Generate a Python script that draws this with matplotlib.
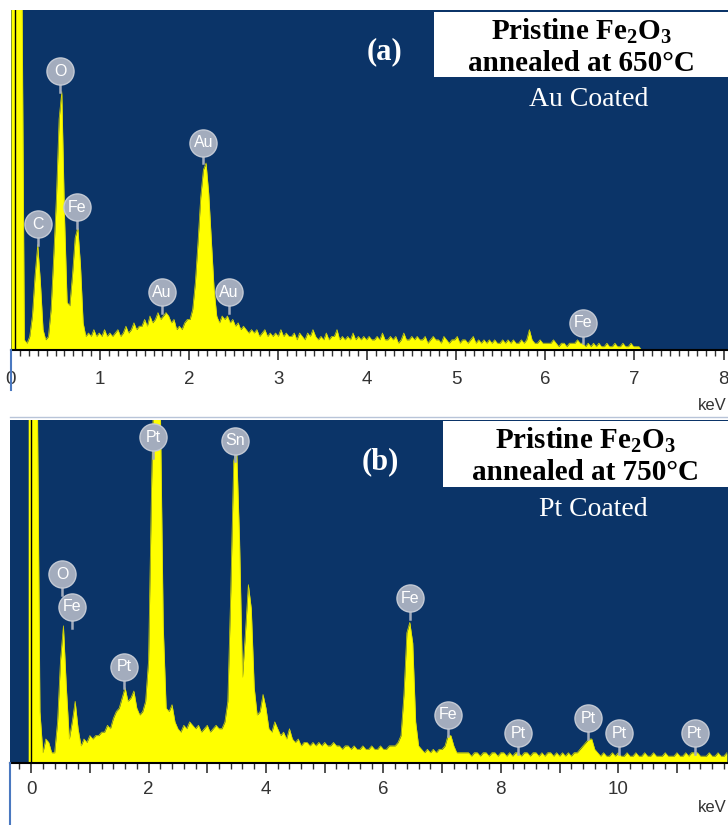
import numpy as np
import matplotlib.pyplot as plt
from matplotlib.patches import Rectangle
from matplotlib.lines import Line2D
from matplotlib.ticker import MultipleLocator, FuncFormatter

plt.rcParams['mathtext.fontset'] = 'custom'
plt.rcParams['mathtext.rm'] = 'Liberation Serif'
plt.rcParams['mathtext.bf'] = 'Liberation Serif:bold'

W, H = 728, 825
NAVY = '#0b3468'
YELLOW = '#ffff00'
BADGE = '#a3acbd'

# ---- panel (a): Au coated, 650 C  (counts in % of full scale) ----
top_start, top_step = 0.0, 0.03
top_counts = [
    120, 120, 120, 120, 120, 3, 2, 4, 10, 22,
    31, 20, 6, 3, 4, 12, 28, 45, 68, 76,
    40, 14, 13, 22, 33, 36, 25, 8, 4, 5,
    4, 6, 4, 5, 4, 6, 4, 5, 4, 5,
    6, 4, 5, 7, 5, 6, 8, 6, 7, 7,
    9, 7, 10, 8, 9, 11, 9, 10, 11, 10,
    8, 9, 6, 7, 6, 8, 9, 9, 12, 20,
    32, 45, 53, 55, 46, 32, 18, 10, 8, 10,
    9, 10, 8, 9, 7, 8, 6, 7, 6, 5,
    6, 5, 6, 4, 5, 6, 4, 5, 4, 5,
    4, 6, 4, 5, 4, 4, 5, 3, 5, 4,
    3, 5, 4, 6, 4, 3, 4, 3, 5, 3,
    4, 4, 6, 3, 4, 3, 4, 3, 5, 3,
    4, 3, 4, 3, 4, 3, 3, 4, 3, 5,
    3, 3, 4, 3, 4, 2, 3, 5, 3, 3,
    4, 3, 4, 3, 3, 4, 2, 3, 4, 3,
    3, 2, 4, 3, 2, 3, 3, 4, 2, 3,
    3, 2, 3, 4, 2, 3, 2, 3, 2, 3,
    2, 3, 2, 2, 3, 2, 3, 2, 3, 2,
    2, 3, 2, 3, 6, 3, 2, 2, 3, 2,
    2, 2, 2, 3, 2, 1, 2, 2, 1, 2,
    2, 2, 3, 2, 2, 1, 2, 1, 2, 1,
    2, 1, 1, 2, 1, 1, 2, 1, 1, 2,
    1, 1, 2, 1, 1, 1, 0,
]
top_labels = ['O', 'C', 'Fe', 'Au', 'Au', 'Au', 'Fe']
top_label_kev = [0.55, 0.30, 0.74, 2.16, 1.69, 2.45, 6.42]
top_label_y = [82, 37, 42, 61, 17, 17, 8]

# ---- panel (b): Pt coated, 750 C ----
bot_start, bot_step = -0.05, 0.05
bot_counts = [
    120, 120, 120, 120, 15, 3, 7, 6, 3, 3,
    12, 30, 40, 22, 7, 12, 18, 10, 5, 7,
    6, 8, 7, 8, 8, 9, 9, 11, 10, 13,
    15, 16, 19, 22, 18, 19, 21, 16, 14, 15,
    18, 30, 80, 120, 120, 105, 40, 16, 15, 17,
    12, 10, 9, 11, 10, 12, 11, 10, 11, 9,
    10, 11, 9, 10, 11, 10, 10, 12, 18, 50,
    88, 92, 65, 25, 38, 52, 45, 22, 14, 15,
    20, 16, 10, 9, 12, 10, 8, 9, 7, 10,
    7, 6, 7, 5, 6, 6, 5, 6, 5, 6,
    5, 6, 5, 5, 6, 5, 5, 4, 5, 5,
    4, 5, 4, 4, 5, 4, 4, 5, 4, 4,
    5, 4, 4, 5, 5, 5, 6, 8, 20, 38,
    41, 35, 12, 5, 4, 3, 4, 3, 4, 3,
    4, 4, 5, 8, 8, 5, 3, 3, 3, 3,
    3, 2, 3, 3, 2, 3, 3, 2, 3, 3,
    2, 3, 3, 2, 3, 2, 3, 3, 2, 3,
    3, 2, 3, 3, 2, 3, 2, 3, 3, 2,
    3, 2, 3, 2, 3, 2, 3, 3, 4, 5,
    6, 7, 7, 4, 3, 2, 3, 2, 2, 3,
    2, 3, 2, 2, 3, 2, 2, 3, 2, 2,
    3, 2, 2, 3, 2, 2, 2, 3, 2, 2,
    2, 3, 2, 2, 3, 2, 3, 3, 3, 2,
    2, 2, 3, 2, 2, 3, 2, 2, 3,
]
bot_labels = ['Pt', 'Sn', 'O', 'Fe', 'Pt', 'Fe', 'Fe', 'Pt', 'Pt', 'Pt', 'Pt']
bot_label_kev = [2.08, 3.47, 0.53, 0.70, 1.58, 6.46, 7.10, 8.30, 9.49, 10.02, 11.30]
bot_label_y = [95, 94, 55, 45.5, 28, 48, 14, 8.7, 13, 8.7, 8.7]


def px(x, y):
    return x / W, 1 - y / H


def spectrum(ax, start, step, counts, zero_line):
    kev = start + step * np.arange(len(counts))
    ax.fill_between(kev, 0, counts, color=YELLOW, lw=0, zorder=2)
    ax.plot(kev, counts, color='#d8d800', lw=0.5, zorder=2)
    ax.axvline(zero_line, color='black', lw=1, zorder=3)
    ax.set_facecolor(NAVY)
    ax.set_ylim(0, 100)
    ax.set_yticks([])
    for s in ['top', 'left', 'right']:
        ax.spines[s].set_visible(False)
    ax.spines['bottom'].set_color('black')
    ax.spines['bottom'].set_linewidth(1.5)
    ax.tick_params(axis='x', which='major', direction='out', length=7,
                   width=1.2, color='#333333', labelsize=13.5,
                   labelcolor='#333333', pad=8)
    ax.tick_params(axis='x', which='minor', direction='out', length=4,
                   width=1, color='#333333')


def badges(ax, names, kev, ys):
    for name, e, y in zip(names, kev, ys):
        ax.plot([e, e], [y - 3.5, y - 6], color=BADGE, lw=1.8, zorder=4,
                clip_on=False)
        ax.plot(e, y, 'o', ms=19.5, color=BADGE, mec='#c3c9d4', mew=1,
                zorder=5, clip_on=False)
        ax.text(e, y, name, color='white', fontsize=11.5, ha='center',
                va='center', family='Liberation Sans', zorder=6)


fig = plt.figure(figsize=(W / 100, H / 100), dpi=100)

ax1 = fig.add_axes([11 / W, 475 / H, 717 / W, 340 / H])
spectrum(ax1, top_start, top_step, top_counts, 0.04)
ax1.set_xlim(0, 8.05)
ax1.xaxis.set_major_locator(MultipleLocator(1))
ax1.xaxis.set_minor_locator(MultipleLocator(0.1))
badges(ax1, top_labels, top_label_kev, top_label_y)

ax2 = fig.add_axes([10 / W, 62 / H, 718 / W, 343 / H])
spectrum(ax2, bot_start, bot_step, bot_counts, 0.0)
ax2.set_xlim(-0.36, 11.87)
ax2.xaxis.set_major_locator(MultipleLocator(1))
ax2.xaxis.set_minor_locator(MultipleLocator(0.2))
ax2.xaxis.set_major_formatter(
    FuncFormatter(lambda v, p: f'{v:g}' if round(v) % 2 == 0 else ''))
ax2.tick_params(axis='x', pad=6)
badges(ax2, bot_labels, bot_label_kev, bot_label_y)
for lbl in ax1.get_xticklabels() + ax2.get_xticklabels():
    lbl.set_family('Liberation Sans')

# boxes and captions
title_kw = dict(ha='center', va='baseline', family='Liberation Serif',
                fontweight='bold', fontsize=21, color='black', zorder=10)
for (x0, y0, x1, y1), temp, tag, coat, tagx, tagy in [
        ((434, 12, 728, 77), '650', '(a)', 'Au Coated', 384, 52),
        ((443, 421, 728, 487), '750', '(b)', 'Pt Coated', 380, 462)]:
    fig.add_artist(Rectangle(px(x0, y1), (x1 - x0) / W, (y1 - y0) / H,
                             transform=fig.transFigure, facecolor='white',
                             edgecolor='none', zorder=9))
    cx = (x0 + x1) / 2
    fig.text(*px(cx, y0 + 27), r'Pristine Fe$_\mathbf{2}$O$_\mathbf{3}$',
             **title_kw)
    fig.text(*px(cx, y0 + 59), 'annealed at ' + temp + '°C', **title_kw)
    fig.text(*px(tagx, tagy), tag, ha='center', va='center',
             family='Liberation Serif', fontweight='bold', fontsize=22,
             color='white', zorder=10)
    fig.text(*px(cx + 8, y1 + 29), coat, ha='center', va='baseline',
             family='Liberation Serif', fontsize=20, color='white',
             zorder=10)

fig.text(*px(712, 405), 'keV', ha='center', va='center', fontsize=12,
         family='Liberation Sans', color='#333333')
fig.text(*px(712, 808), 'keV', ha='center', va='center', fontsize=12,
         family='Liberation Sans', color='#333333')

# window frame lines
fig.add_artist(Line2D([11 / W, 11 / W], [1 - 390 / H, 1 - 350 / H],
                      color='#4a78c0', lw=1.5))
fig.add_artist(Line2D([10 / W, 10 / W], [0, 1 - 763 / H],
                      color='#4a78c0', lw=1.5))
fig.add_artist(Line2D([10 / W, 1], [1 - 417 / H, 1 - 417 / H],
                      color='#b8c4d8', lw=1))

fig.savefig('out.png', dpi=100)
